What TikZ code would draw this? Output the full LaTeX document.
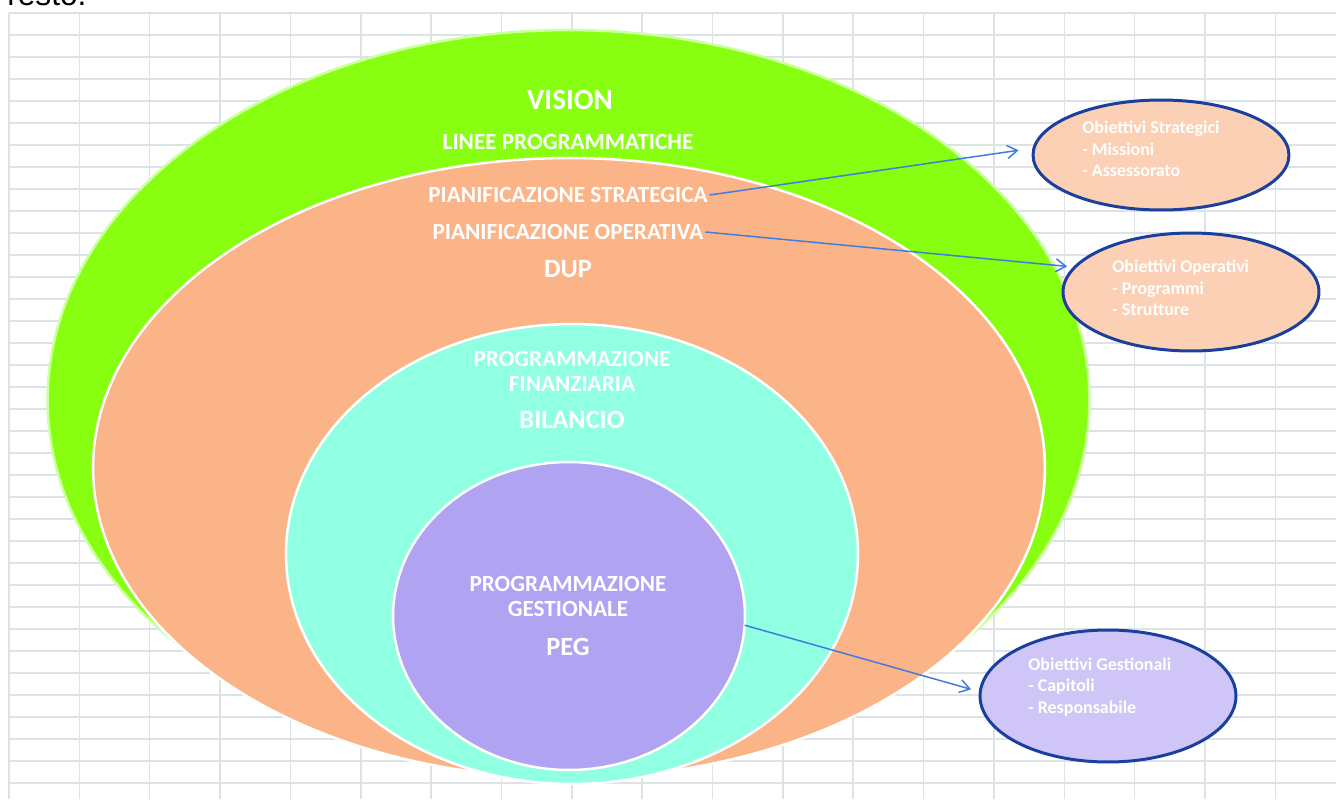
\documentclass[tikz,border=0pt]{standalone}
\usepackage{fontspec}
\setmainfont{Carlito}
\newfontfamily\arialfont{Liberation Sans}
\usetikzlibrary{arrows.meta, shapes.geometric}

\definecolor{gridgray}{RGB}{220,227,230}
\definecolor{visiongreen}{RGB}{136,255,17}
\definecolor{visionrim}{RGB}{204,255,160}
\definecolor{dupor}{RGB}{251,180,135}
\definecolor{bilcyan}{RGB}{145,255,226}
\definecolor{pegviolet}{RGB}{176,163,242}
\definecolor{objpeach}{RGB}{252,208,180}
\definecolor{objlilac}{RGB}{207,198,247}
\definecolor{objrim}{RGB}{27,63,158}
\definecolor{linkblue}{RGB}{66,124,222}

\begin{document}
\begin{tikzpicture}[x=0.02cm, y=-0.02cm,
    ring/.style={ellipse, inner sep=0pt, outer sep=0pt, draw=white, line width=0.05cm},
    lbl/.style={text=white, font=\bfseries\fontsize{13.2}{14.2}\selectfont, align=center, inner sep=1pt},
    biglbl/.style={lbl, font=\bfseries\fontsize{15}{16}\selectfont},
    obj/.style={ellipse, inner sep=0pt, minimum width=5.12cm, draw=objrim, line width=0.06cm},
    objtext/.style={text=white, font=\bfseries\fontsize{10.2}{12.2}\selectfont, align=left, anchor=west, inner sep=0pt},
    link/.style={-{Straight Barb[length=0.2cm, width=0.26cm]}, draw=linkblue, line width=0.03cm}]

    \useasboundingbox (0,0) rectangle (1336,799);
    \clip (0,0) rectangle (1336,799);

    % -------------------------------------------------------------
    % SHEET: grid and the cut line of text above
    % -------------------------------------------------------------
    \foreach \k in {0,...,18}
        \draw[gridgray, line width=0.03cm] (9+70.35*\k, 13) -- (9+70.35*\k, 799);
    \foreach \k in {0,...,35}
        \draw[gridgray, line width=0.03cm] (9, 13+22*\k) -- (1336, 13+22*\k);

    \node[anchor=base west, inner sep=0pt, font=\arialfont\fontsize{18}{20}\selectfont] (resto) at (7,5.5) {resto.};

    % -------------------------------------------------------------
    % NESTED ELLIPSES
    % -------------------------------------------------------------
    \node[ring, fill=visiongreen, draw=visionrim, minimum width=20.84cm, minimum height=14.8cm] (visring) at (568.5,400) {};
    \node[ring, fill=dupor, minimum width=19.04cm, minimum height=12.4cm] (dupring) at (569,468) {};
    \node[ring, fill=bilcyan, minimum width=11.44cm, minimum height=9.2cm] (bilring) at (572,554) {};
    \node[ring, fill=pegviolet, minimum width=7.04cm, minimum height=6.16cm] (pegring) at (569,616) {};

    % Labels
    \node[lbl, font=\bfseries\fontsize{16.6}{17}\selectfont] (vision) at (570,100) {VISION};
    \node[lbl] (linee) at (568,142) {LINEE PROGRAMMATICHE};
    \node[lbl] (pstrat) at (568,195) {PIANIFICAZIONE STRATEGICA};
    \node[lbl] (poper) at (568,232) {PIANIFICAZIONE OPERATIVA};
    \node[biglbl] (dup) at (568,269) {DUP};
    \node[lbl] (pfin) at (572,371) {PROGRAMMAZIONE\\FINANZIARIA};
    \node[biglbl] (bilancio) at (572,420) {BILANCIO};
    \node[lbl] (pgest) at (568,596) {PROGRAMMAZIONE\\GESTIONALE};
    \node[biglbl] (peg) at (568,647) {PEG};

    % -------------------------------------------------------------
    % OBJECTIVES (right side)
    % -------------------------------------------------------------
    \node[obj, fill=objpeach, minimum height=2.2cm] (ostrat) at (1161,155) {};
    \node[objtext] (ostrattxt) at (1082,149) {Obiettivi Strategici\\- Missioni\\- Assessorato};

    \node[obj, fill=objpeach, minimum height=2.36cm] (ooper) at (1191,292) {};
    \node[objtext] (oopertxt) at (1112,288) {Obiettivi Operativi\\- Programmi\\- Strutture};

    \node[obj, fill=objlilac, minimum height=2.64cm] (ogest) at (1108,696) {};
    \node[objtext] (ogesttxt) at (1028,687) {Obiettivi Gestionali\\- Capitoli\\- Responsabile};

    % Links
    \draw[link, shorten >=0.28cm] (pstrat.east) -- (ostrat.177);
    \draw[link, shorten >=0.12cm] (poper.east) -- (ooper.168);
    \draw[link, shorten >=0.16cm] (pegring.-3) -- (ogest.178);

\end{tikzpicture}
\end{document}
